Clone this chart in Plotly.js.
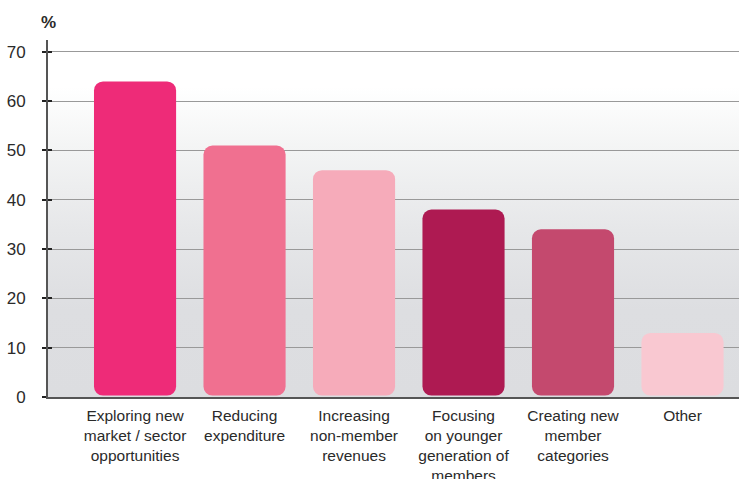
<!DOCTYPE html>
<html>
<head>
<meta charset="utf-8">
<script src="https://cdn.plot.ly/plotly-3.0.1.min.js"></script>
<style>
  html, body { margin: 0; padding: 0; background: #fff; }
  #wrap { position: relative; width: 739px; height: 479px; }
  #bg { position: absolute; left: 48px; top: 40px; width: 691px; height: 357px;
        background: linear-gradient(to bottom, #ffffff 0px, #ffffff 47px, #f3f4f4 110px, #e6e7e9 190px, #dddee1 270px, #dcdde0 357px); }
  #chart { position: absolute; left: 0; top: 0; width: 739px; height: 479px; }
</style>
</head>
<body>
<div id="wrap"><div id="bg"></div><div id="chart"></div></div>
<script>
const categories = [
  "Exploring new<br>market / sector<br>opportunities",
  "Reducing<br>expenditure",
  "Increasing<br>non-member<br>revenues",
  "Focusing<br>on younger<br>generation of<br>members",
  "Creating new<br>member<br>categories",
  "Other"
];
const values = [64, 51, 46, 38, 34, 13];
const colors = ["#ee2b78", "#f07090", "#f6abba", "#ae1a52", "#c4496e", "#f9c8d1"];
const yTicks = [0, 10, 20, 30, 40, 50, 60, 70];
const yMax = 72.4;
const barLift = 0.3; // small gap between bar bottoms and the axis line (lets both ends round)

const idx = categories.map((_, i) => i);
const bars = {
  type: "bar", x: idx,
  base: values.map(() => barLift), y: values.map(v => v - barLift),
  width: 0.75, marker: { color: colors, cornerradius: 9, line: { width: 0 } },
  hoverinfo: "skip", showlegend: false
};
const tickHolder = { type: "scatter", x: [], y: [], yaxis: "y2", showlegend: false, hoverinfo: "skip" };

const layout = {
  width: 739, height: 479,
  margin: { l: 48, r: 0, t: 40, b: 82 },
  paper_bgcolor: "rgba(0,0,0,0)",
  plot_bgcolor: "rgba(0,0,0,0)",
  barmode: "overlay",
  font: { family: "Liberation Sans, Arial, sans-serif", color: "#2a2a2a" },
  xaxis: {
    range: [-0.795, 5.516],
    tickmode: "array", tickvals: idx, ticktext: categories,
    ticks: "", showgrid: false, zeroline: false,
    showline: true, linecolor: "#555555", linewidth: 2,
    tickfont: { size: 15.5, color: "#2a2a2a" },
    ticklabelstandoff: 3,
    fixedrange: true
  },
  yaxis: {
    range: [0, yMax],
    tickmode: "array", tickvals: yTicks,
    ticks: "outside", ticklen: 4, tickwidth: 2, tickcolor: "#222",
    showline: true, linecolor: "#555555", linewidth: 2,
    showgrid: true, gridcolor: "#999999", gridwidth: 1,
    zeroline: false,
    tickfont: { size: 17, color: "#2a2a2a" },
    ticklabelstandoff: 13,
    fixedrange: true
  },
  yaxis2: {
    overlaying: "y", range: [0, yMax],
    tickmode: "array", tickvals: yTicks,
    ticks: "inside", ticklen: 4, tickwidth: 2, tickcolor: "#222",
    showticklabels: false, showgrid: false, zeroline: false, showline: false,
    fixedrange: true
  },
  annotations: [{
    text: "<b>%</b>", xref: "paper", yref: "paper", x: 0, y: 1.048,
    xanchor: "center", yanchor: "middle", showarrow: false,
    font: { size: 17, color: "#2a2a2a" }
  }]
};

Plotly.newPlot("chart", [bars, tickHolder], layout, { displayModeBar: false, staticPlot: true });
</script>
</body>
</html>
